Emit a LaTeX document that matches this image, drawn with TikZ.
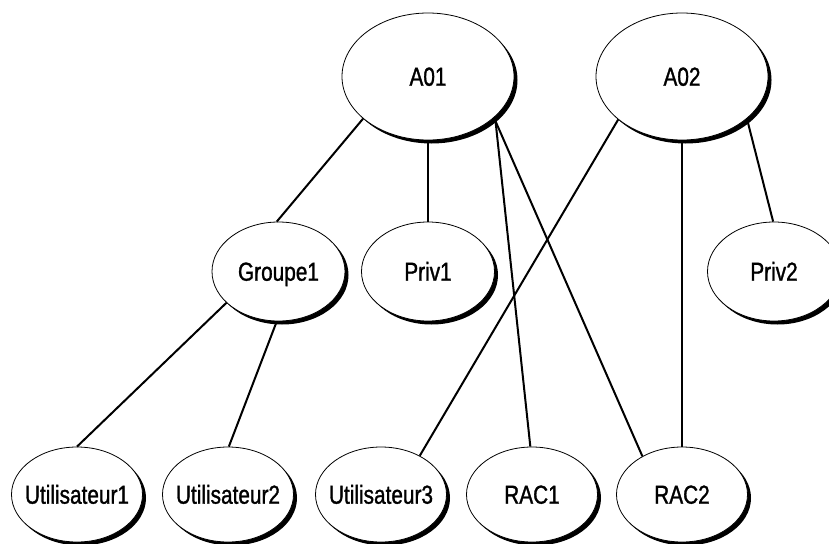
\documentclass[tikz,border=0pt]{standalone}
\usepackage{fontspec}
\setmainfont{Liberation Sans}[FakeStretch=0.8,FakeBold=1.2]
\usetikzlibrary{shapes.geometric,shadows}
\newcommand{\ctrtext}[1]{\makebox[0pt][c]{#1}}
\begin{document}
\begin{tikzpicture}[x=1pt,y=-1pt,
  bubble/.style={ellipse, draw=black, line width=0.8pt, fill=white, inner sep=0pt,
    text height=18.4pt, text depth=0pt, font=\fontsize{26}{30}\selectfont,
    drop shadow={shadow xshift=3.5pt, shadow yshift=-3.5pt, fill=black, opacity=1}},
  topoval/.style={bubble, minimum width=172pt, minimum height=127pt},
  midoval/.style={bubble, minimum width=133pt, minimum height=99pt},
  botoval/.style={bubble, minimum width=131pt, minimum height=95pt},
  conn/.style={line width=2pt}]
\useasboundingbox (0,0) rectangle (829,543);
% top row
\node[topoval] (A01) at (428,76.5) {\ctrtext{A01}};
\node[topoval] (A02) at (682,76.5) {\ctrtext{A02}};
% middle row
\node[midoval] (G1) at (278.5,271.5) {\ctrtext{Groupe1}};
\node[midoval] (P1) at (428,271.5) {\ctrtext{Priv1}};
\node[midoval] (P2) at (774,271.5) {\ctrtext{Priv2}};
% bottom row
\node[botoval] (U1) at (77,494.5) {\ctrtext{Utilisateur1}};
\node[botoval] (U2) at (228,494.5) {\ctrtext{Utilisateur2}};
\node[botoval] (U3) at (381,494.5) {\ctrtext{Utilisateur3}};
\node[botoval] (R1) at (532,494.5) {\ctrtext{RAC1}};
\node[botoval] (R2) at (682,494.5) {\ctrtext{RAC2}};
% connectors
\draw[conn] (A01.213) -- (G1.92);
\draw[conn] (A01.270) -- (P1.90);
\draw[conn] (A01.329) -- (R1.92);
\draw[conn] (A01.328) -- (R2.136);
\draw[conn] (A02.214) -- (U3.45);
\draw[conn] (A02.270) -- (R2.90);
\draw[conn] (A02.327) -- (P2.91);
\draw[conn] (G1.211.5) -- (U1.90);
\draw[conn] (G1.268) -- (U2.89);
\end{tikzpicture}
\end{document}
